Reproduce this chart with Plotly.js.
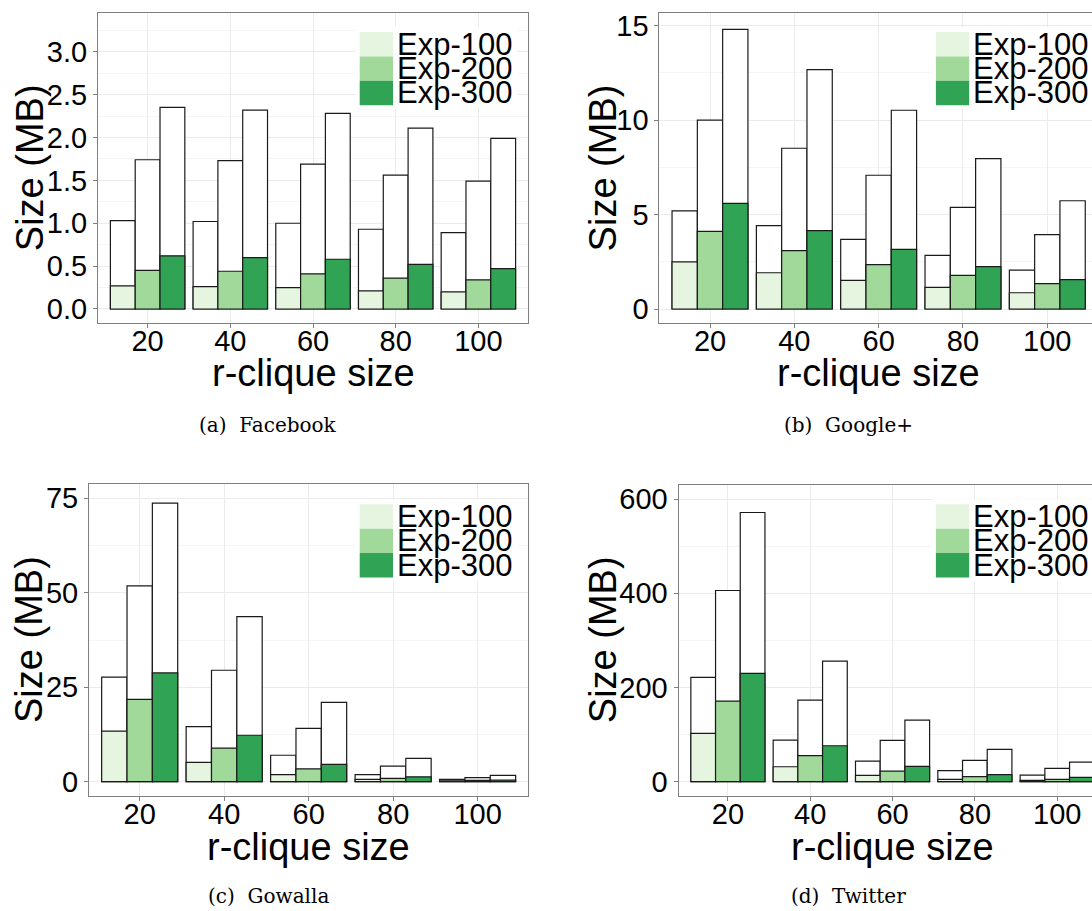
<!DOCTYPE html>
<html><head><meta charset="utf-8">
<script src="https://cdn.plot.ly/plotly-3.0.1.min.js"></script>
<style>html,body{margin:0;padding:0;overflow:hidden;background:#fff}#chart{width:1110px;height:911px}</style>
</head><body><div id="chart"></div>
<script>
// ---- data ----
const categories = ['20','40','60','80','100'];
const seriesNames = ['Exp-100','Exp-200','Exp-300'];
const seriesColors = ['#e5f5e0','#a1d99b','#31a354'];

// (a) Facebook
const fbTotal100 = [1.03, 1.02, 1.00, 0.93, 0.89];
const fbTotal200 = [1.74, 1.73, 1.69, 1.56, 1.49];
const fbTotal300 = [2.35, 2.32, 2.28, 2.11, 1.99];
const fbPart100  = [0.27, 0.26, 0.25, 0.21, 0.20];
const fbPart200  = [0.45, 0.44, 0.41, 0.36, 0.34];
const fbPart300  = [0.62, 0.60, 0.58, 0.52, 0.47];

// (b) Google+
const gpTotal100 = [5.19, 4.41, 3.69, 2.84, 2.06];
const gpTotal200 = [10.0, 8.51, 7.08, 5.38, 3.94];
const gpTotal300 = [14.8, 12.67, 10.52, 7.96, 5.73];
const gpPart100  = [2.49, 1.92, 1.52, 1.15, 0.86];
const gpPart200  = [4.11, 3.09, 2.35, 1.78, 1.34];
const gpPart300  = [5.59, 4.15, 3.16, 2.24, 1.55];

// (c) Gowalla
const gwTotal100 = [27.7, 14.6, 7.0, 1.9, 0.6];
const gwTotal200 = [51.8, 29.5, 14.1, 4.1, 1.1];
const gwTotal300 = [73.7, 43.7, 21.0, 6.2, 1.7];
const gwPart100  = [13.4, 5.1, 1.9, 0.6, 0.25];
const gwPart200  = [21.8, 8.9, 3.4, 0.9, 0.35];
const gwPart300  = [28.8, 12.3, 4.6, 1.3, 0.4];

// (d) Twitter
const twTotal100 = [221.5, 88.4, 43.9, 23.4, 14.2];
const twTotal200 = [406, 173.4, 87.7, 45.3, 28.3];
const twTotal300 = [571.7, 256.1, 130.9, 68.6, 41.7];
const twPart100  = [102.6, 31.8, 13.4, 5.0, 3.0];
const twPart200  = [171.2, 55.2, 22.6, 10.6, 5.0];
const twPart300  = [230, 76.4, 32.5, 14.9, 9.2];

const captions = ['(a)\u00a0\u00a0Facebook','(b)\u00a0\u00a0Google+','(c)\u00a0\u00a0Gowalla','(d)\u00a0\u00a0Twitter'];
const xTitle = 'r-clique size';
const yTitle = 'Size (MB)';

// ---- layout geometry (pixels) ----
const W = 1110, H = 911;
const px = x => x / W, py = y => 1 - y / H;
const SANS = 'Liberation Sans, Arial, Helvetica, sans-serif';
const SERIF = 'DejaVu Serif, serif';

const panels = [
  {s:'',  left:98,    right:528,    top:12.7,  bottom:322.7, range:[-0.16,3.455], dtick:0.5, fmt:'.1f',
   totals:[fbTotal100,fbTotal200,fbTotal300], parts:[fbPart100,fbPart200,fbPart300],
   legX:359.7, legY:32, capX:268, capY:425, yTitleX:29.5, xTitleY:373},
  {s:'2', left:659.4, right:1097.9, top:12.7,  bottom:322.7, range:[-0.725,15.685], dtick:5, fmt:'d',
   totals:[gpTotal100,gpTotal200,gpTotal300], parts:[gpPart100,gpPart200,gpPart300],
   legX:935.9, legY:32, capX:848, capY:425, yTitleX:602.7, xTitleY:373},
  {s:'3', left:89,    right:528.3,  top:484.3, bottom:795.7, range:[-3.7,78.7], dtick:25, fmt:'d',
   totals:[gwTotal100,gwTotal200,gwTotal300], parts:[gwPart100,gwPart200,gwPart300],
   legX:359.7, legY:504.3, capX:268, capY:896, yTitleX:29, xTitleY:847},
  {s:'4', left:678.5, right:1106.6, top:484.7, bottom:795.7, range:[-29.7,630.7], dtick:200, fmt:'d',
   totals:[twTotal100,twTotal200,twTotal300], parts:[twPart100,twPart200,twPart300],
   legX:935.9, legY:504.3, capX:848, capY:896, yTitleX:603, xTitleY:847}
];

const traces = [];
const layout = {
  width: W, height: H, margin:{l:0,r:0,t:0,b:0},
  paper_bgcolor:'#fff', plot_bgcolor:'#fff',
  barmode:'overlay', showlegend:false,
  font:{family:SANS, color:'#000'},
  shapes:[], annotations:[]
};

const BAR_W = 0.3;
const LINE = {color:'#1a1a1a', width:1.2};

panels.forEach((p, pi) => {
  const xa = 'x' + p.s, ya = 'y' + p.s;
  for (let k = 0; k < 3; k++) {
    traces.push({type:'bar', x:categories, y:p.totals[k], offset:-0.45 + BAR_W*k, width:BAR_W,
      xaxis:xa, yaxis:ya, name:seriesNames[k] + ' total', hoverinfo:'skip',
      marker:{color:'#ffffff', line:LINE}});
  }
  for (let k = 0; k < 3; k++) {
    traces.push({type:'bar', x:categories, y:p.parts[k], offset:-0.45 + BAR_W*k, width:BAR_W,
      xaxis:xa, yaxis:ya, name:seriesNames[k], hoverinfo:'skip',
      marker:{color:seriesColors[k], line:LINE}});
  }
  layout['xaxis' + p.s] = {
    domain:[px(p.left), px(p.right)], anchor:ya, type:'category', range:[-0.6, 4.6],
    showgrid:true, gridcolor:'#ebebeb', gridwidth:1,
    showline:true, linecolor:'#7f7f7f', linewidth:1, mirror:true,
    ticks:'outside', ticklen:4, tickcolor:'#7f7f7f', tickwidth:1, ticklabelstandoff:-12,
    tickfont:{family:SANS, size:29, color:'#000'}, zeroline:false, fixedrange:true
  };
  layout['yaxis' + p.s] = {
    domain:[py(p.bottom), py(p.top)], anchor:xa, range:p.range,
    tick0:0, dtick:p.dtick, tickformat:p.fmt,
    showgrid:true, gridcolor:'#ebebeb', gridwidth:1,
    minor:{dtick:p.dtick/2, tick0:0, showgrid:true, gridcolor:'#f5f5f5', gridwidth:1},
    showline:true, linecolor:'#7f7f7f', linewidth:1, mirror:true,
    ticks:'outside', ticklen:4, tickcolor:'#7f7f7f', tickwidth:1,
    tickfont:{family:SANS, size:29, color:'#000'}, zeroline:false, fixedrange:true
  };
  // axis titles
  layout.annotations.push({text:xTitle, xref:'paper', yref:'paper', x:px((p.left+p.right)/2), y:py(p.xTitleY),
    xanchor:'center', yanchor:'middle', showarrow:false, font:{family:SANS, size:38, color:'#000'}});
  layout.annotations.push({text:yTitle, xref:'paper', yref:'paper', x:px(p.yTitleX), y:py((p.top+p.bottom)/2),
    xanchor:'center', yanchor:'middle', textangle:-90, showarrow:false, font:{family:SANS, size:38, color:'#000'}});
  // caption
  layout.annotations.push({text:captions[pi], xref:'paper', yref:'paper', x:px(p.capX), y:py(p.capY),
    xanchor:'center', yanchor:'middle', showarrow:false, font:{family:SERIF, size:20, color:'#000'}});
  // legend
  const keyW = 33.3, rowH = 24.4;
  layout.shapes.push({type:'rect', xref:'paper', yref:'paper', layer:'above',
    x0:px(p.legX-4), x1:px(p.legX+158), y0:py(p.legY-5), y1:py(p.legY+3*rowH+3),
    fillcolor:'#ffffff', line:{width:0}});
  for (let k = 0; k < 3; k++) {
    layout.shapes.push({type:'rect', xref:'paper', yref:'paper', layer:'above',
      x0:px(p.legX), x1:px(p.legX+keyW), y0:py(p.legY + rowH*k), y1:py(p.legY + rowH*(k+1)),
      fillcolor:seriesColors[k], line:{width:0}});
    layout.annotations.push({text:seriesNames[k], xref:'paper', yref:'paper',
      x:px(p.legX+keyW+2), y:py(p.legY + rowH*(k+0.5)), xanchor:'left', yanchor:'middle',
      showarrow:false, font:{family:SANS, size:31, color:'#000'}});
  }
});

Plotly.newPlot('chart', traces, layout, {displayModeBar:false, staticPlot:true});
</script>
</body></html>
